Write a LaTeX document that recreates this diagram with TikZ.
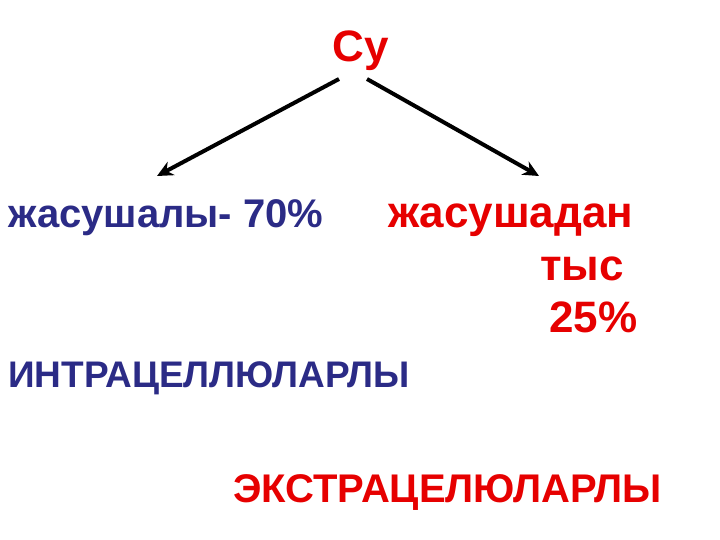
\documentclass[tikz,border=0pt]{standalone}
\usepackage{fontspec}
\setmainfont{Liberation Sans}
\usetikzlibrary{arrows.meta}
\definecolor{navy}{RGB}{43,43,134}
\definecolor{tred}{RGB}{230,0,0}
\begin{document}
\begin{tikzpicture}[>={Stealth[length=16pt,width=15pt]}, x=1pt, y=-1pt, inner sep=0pt,
    word/.style={anchor=base west, font=\fontsize{40}{40}\selectfont\bfseries},
    arrow/.style={->, line width=4pt}]
     \useasboundingbox (0,0) rectangle (720,540);
     \node[tred, anchor=base, font=\fontsize{44}{44}\selectfont\bfseries] (su) at (361,62) {Су};
     \node[word, navy] (inside) at (8,227) {жасушалы- 70\%};
     \node[word, tred, font=\fontsize{44}{44}\selectfont\bfseries] (outa) at (388,227) {жасушадан};
     \node[word, tred, font=\fontsize{44}{44}\selectfont\bfseries] (outb) at (540,280) {тыс};
     \node[word, tred, font=\fontsize{44}{44}\selectfont\bfseries] (outc) at (549,332) {25\%};
     \node[word, navy, font=\fontsize{37}{37}\selectfont\bfseries] (intra) at (8,387) {ИНТРАЦЕЛЛЮЛАРЛЫ};
     \node[word, tred] (extra) at (233,502) {ЭКСТРАЦЕЛЮЛАРЛЫ};
     \coordinate (la) at (339,79);
     \coordinate (lb) at (157,176);
     \coordinate (ra) at (367,79);
     \coordinate (rb) at (539,176);
     \draw[arrow] (la)--(lb);
     \draw[arrow] (ra)--(rb);
 \end{tikzpicture}
\end{document}
